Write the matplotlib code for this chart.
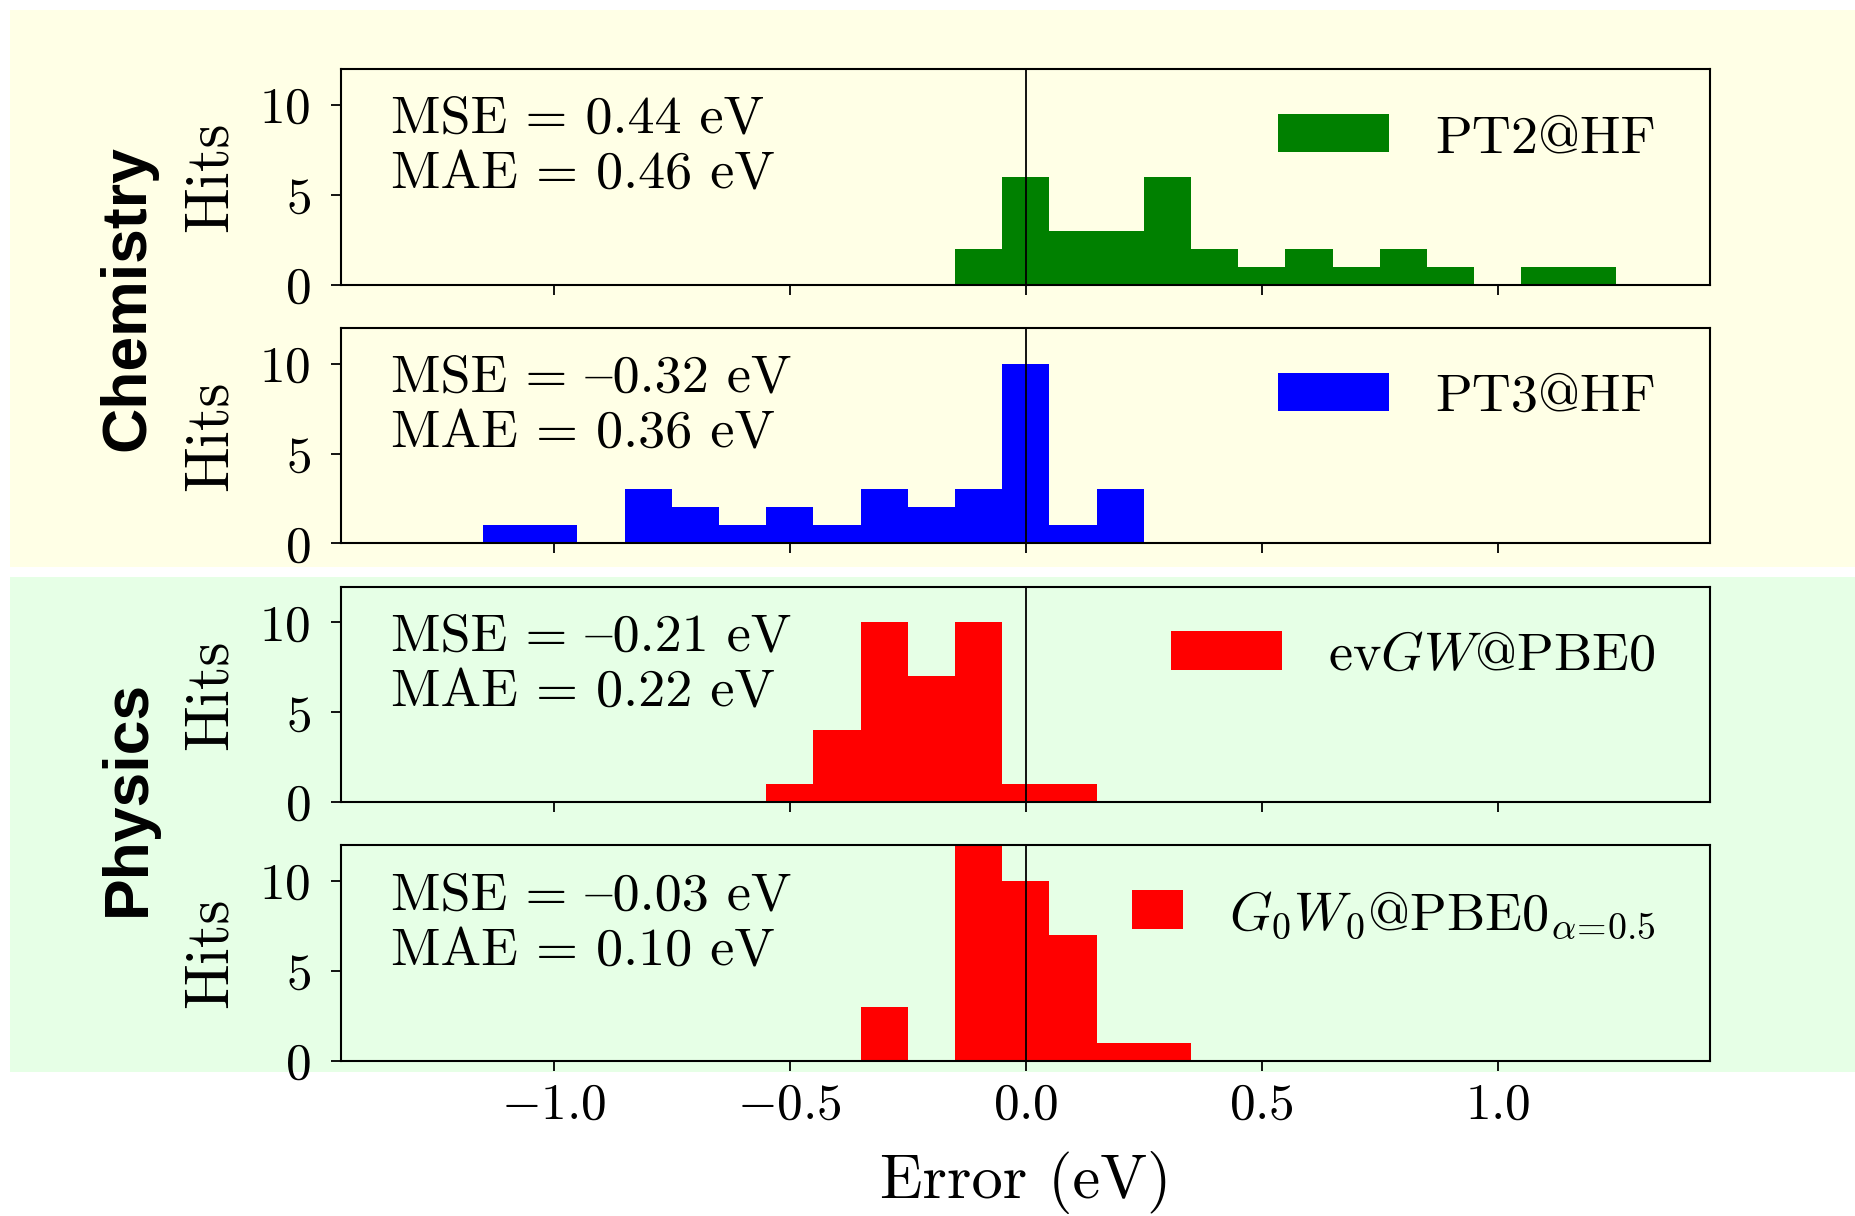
import matplotlib
matplotlib.use('Agg')
import matplotlib.pyplot as plt
from matplotlib.patches import Rectangle

# histogrammes : centres des classes (largeur 0.1 eV) et nombre de cas
pt2_centers = [-0.1, 0.0, 0.1, 0.2, 0.3, 0.4, 0.5, 0.6, 0.7, 0.8, 0.9, 1.1, 1.2]
pt2_counts = [2, 6, 3, 3, 6, 2, 1, 2, 1, 2, 1, 1, 1]
pt3_centers = [-1.1, -1.0, -0.8, -0.7, -0.6, -0.5, -0.4, -0.3, -0.2, -0.1, 0.0, 0.1, 0.2]
pt3_counts = [1, 1, 3, 2, 1, 2, 1, 3, 2, 3, 10, 1, 3]
evgw_centers = [-0.5, -0.4, -0.3, -0.2, -0.1, 0.0, 0.1]
evgw_counts = [1, 4, 10, 7, 10, 1, 1]
g0w0_centers = [-0.3, -0.1, 0.0, 0.1, 0.2, 0.3]
g0w0_counts = [3, 12, 10, 7, 1, 1]

labels = ['PT2@HF', 'PT3@HF', r'ev$GW$@PBE0', r'$G_0W_0$@PBE0$_{\alpha\!=\!0.5}$']
colors = ['green', 'blue', 'red', 'red']
# '{' donne le tiret demi-cadratin dans cmr10
mse = ['0.44', '{0.32', '{0.21', '{0.03']
mae = ['0.46', '0.36', '0.22', '0.10']
xticks = [-1.0, -0.5, 0.0, 0.5, 1.0]
yticks = [0, 5, 10]

centers = [pt2_centers, pt3_centers, evgw_centers, g0w0_centers]
counts = [pt2_counts, pt3_counts, evgw_counts, g0w0_counts]

plt.rcParams['font.family'] = ['cmr10']
plt.rcParams['mathtext.fontset'] = 'cm'
plt.rcParams['axes.formatter.use_mathtext'] = True
plt.rcParams['axes.unicode_minus'] = True

fig, axes = plt.subplots(4, 1, figsize=(18.55, 12.16), dpi=100, sharex=True)
fig.subplots_adjust(left=0.184, right=0.922, top=0.9433, bottom=0.1275, hspace=0.2)

# fonds colorés (chimie / physique)
fig.patches.append(Rectangle((0.0054, 0.534), 0.9946, 0.4578, transform=fig.transFigure,
                             facecolor='#ffffe6', edgecolor='none', zorder=-10))
fig.patches.append(Rectangle((0.0054, 0.1184), 0.9946, 0.4071, transform=fig.transFigure,
                             facecolor='#e6ffe6', edgecolor='none', zorder=-10))

hlen = [2.05, 2.05, 2.05, 0.95]
for i, ax in enumerate(axes):
    ax.set_facecolor('none')
    ax.bar(centers[i], counts[i], width=0.1, color=colors[i], linewidth=0, label=labels[i])
    ax.axvline(0, color='black', lw=1.3, zorder=5)
    ax.set_xlim(-1.45, 1.45)
    ax.set_ylim(0, 12)
    ax.set_xticks(xticks)
    ax.set_yticks(yticks)
    ax.tick_params(direction='out', length=7, width=1.3, labelsize=37)
    ax.tick_params(axis='y', pad=15)
    ax.tick_params(axis='x', pad=9)
    for s in ax.spines.values():
        s.set_linewidth(1.5)
    ax.set_ylabel('Hits', fontsize=44)
    ax.yaxis.set_label_coords(-0.075, 0.5)
    ax.text(0.036, 0.875, f'MSE = {mse[i]} eV\nMAE = {mae[i]} eV', transform=ax.transAxes,
            fontsize=39, va='top', ha='left', linespacing=1.22)
    ax.legend(loc='center right', bbox_to_anchor=(0.96, 0.68), frameon=False, fontsize=39,
              borderpad=0, borderaxespad=0, handlelength=hlen[i], handleheight=0.72,
              handletextpad=0.85)

axes[-1].set_xlabel('Error (eV)', fontsize=45, labelpad=16)

fig.text(0.069, 0.755, 'Chemistry', rotation=90, ha='center', va='center',
         fontsize=45, fontweight='bold', family='Liberation Sans')
fig.text(0.069, 0.344, 'Physics', rotation=90, ha='center', va='center',
         fontsize=45, fontweight='bold', family='Liberation Sans')

fig.savefig('out.png', dpi=100)
